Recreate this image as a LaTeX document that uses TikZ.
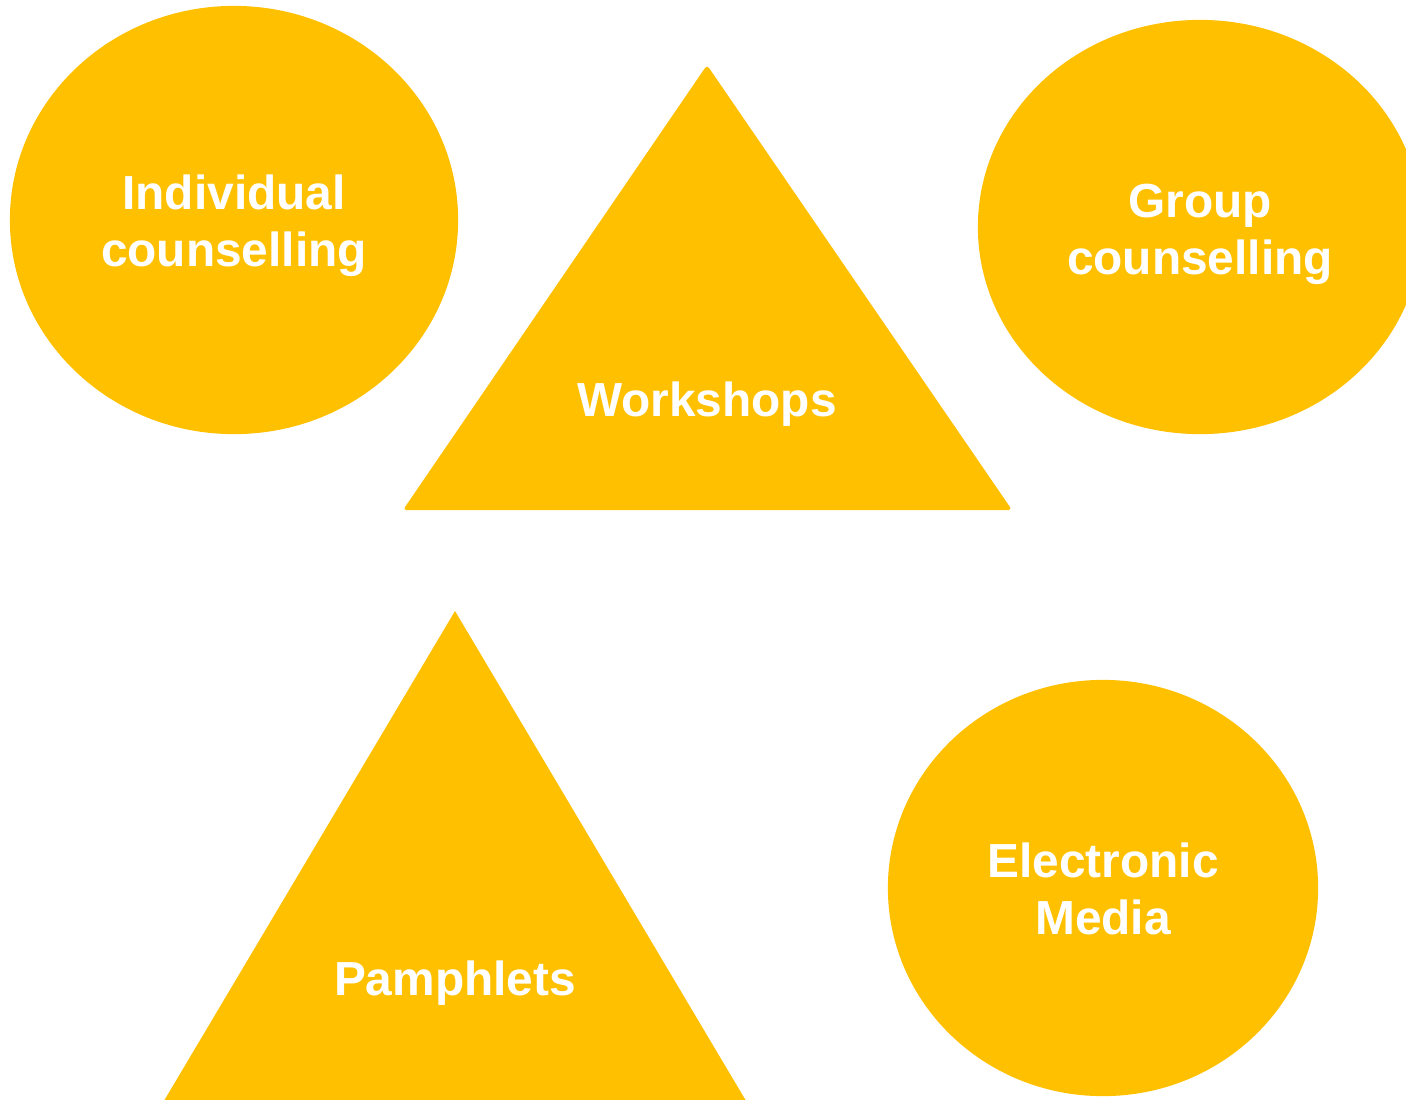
\documentclass[tikz,border=0pt]{standalone}
\usepackage{fontspec}
\setmainfont{Liberation Sans}
\usetikzlibrary{shapes.geometric}
\definecolor{gold}{HTML}{FFC000}
\begin{document}
\begin{tikzpicture}[x=0.01cm,y=-0.01cm,
  blob/.style={ellipse,fill=gold,draw=none,inner sep=0pt},
  lbl/.style={text=white,font=\bfseries\fontsize{13.6}{16.2}\selectfont,align=center,inner sep=0pt}]
\useasboundingbox (0,0) rectangle (1406,1099);
\clip (0,0) rectangle (1406,1099);
\node[blob,minimum width=4.48cm,minimum height=4.28cm] (e1) at (234,220) {};
\node[blob,minimum width=4.44cm,minimum height=4.14cm] (e2) at (1200,227) {};
\node[blob,minimum width=4.30cm,minimum height=4.16cm] (e3) at (1103,888) {};
\fill[gold,rounded corners=1pt] (707,65) -- (1012,510) -- (403,510) -- cycle;
\fill[gold] (455,611) -- (777,1153) -- (133,1153) -- cycle;
\node[lbl] (t1) at (234,226) {Individual\\counselling};
\node[lbl] (t2) at (1200,234) {Group\\counselling};
\node[lbl] (t3) at (707,404) {Workshops};
\node[lbl] (t4) at (455,983) {Pamphlets};
\node[lbl] (t5) at (1103,889) {Electronic\\Media};
\end{tikzpicture}
\end{document}
